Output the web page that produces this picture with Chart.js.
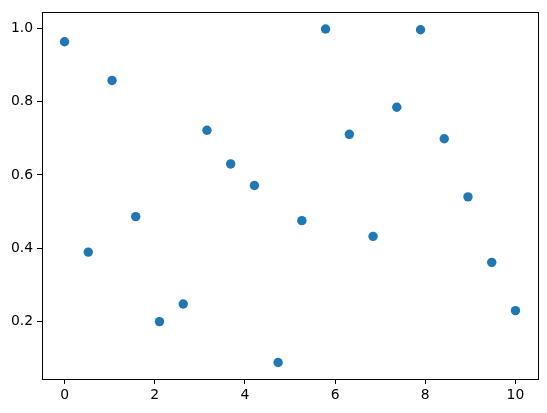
<!DOCTYPE html>
<html>
<head>
<meta charset="utf-8">
<script src="https://cdn.jsdelivr.net/npm/chart.js@4/dist/chart.umd.min.js"></script>
<style>
  body { margin: 0; background: #fff; }
  canvas { display: block; }
</style>
</head>
<body>
<canvas id="chart" width="547" height="413"></canvas>
<script>
//--- data
const xValues = [0, 0.526, 1.053, 1.579, 2.105, 2.632, 3.158, 3.684, 4.211, 4.737,
  5.263, 5.789, 6.316, 6.842, 7.368, 7.895, 8.421, 8.947, 9.474, 10];
const yValues = [0.964, 0.389, 0.858, 0.486, 0.199, 0.247, 0.722, 0.630, 0.571, 0.087,
  0.475, 0.999, 0.711, 0.432, 0.785, 0.997, 0.699, 0.540, 0.361, 0.229];
const xTicks = [0, 2, 4, 6, 8, 10];
const yTicks = [0.2, 0.4, 0.6, 0.8, 1.0];

const points = xValues.map((x, i) => ({ x: x, y: yValues[i] }));

//--- box around the plot area (top and right spines too)
const frame = {
  id: 'frame',
  afterDraw(chart) {
    const { ctx, chartArea: a } = chart;
    ctx.save();
    ctx.strokeStyle = '#000';
    ctx.lineWidth = 1;
    ctx.strokeRect(Math.round(a.left) + 0.5, Math.round(a.top) + 0.5,
      Math.round(a.right - a.left), Math.round(a.bottom - a.top));
    ctx.restore();
  }
};

const tickFont = { family: 'DejaVu Sans', size: 13.9 };

new Chart(document.getElementById('chart'), {
  type: 'scatter',
  data: {
    datasets: [{
      data: points,
      backgroundColor: '#1f77b4',
      borderColor: '#1f77b4',
      borderWidth: 0,
      pointRadius: 4.7,
      pointHoverRadius: 4.7
    }]
  },
  options: {
    responsive: false,
    animation: false,
    layout: { padding: { left: 0, right: 9, top: 10, bottom: 0 } },
    plugins: {
      legend: { display: false },
      tooltip: { enabled: false }
    },
    scales: {
      x: {
        type: 'linear',
        min: -0.5,
        max: 10.5,
        afterBuildTicks: (s) => { s.ticks = xTicks.map(v => ({ value: v })); },
        afterFit: (s) => { s.height = 34; },
        grid: { drawOnChartArea: false, color: '#000', tickLength: 5 },
        border: { display: false },
        ticks: { color: '#000', font: tickFont, padding: 3, maxRotation: 0,
          callback: (v) => String(v) }
      },
      y: {
        type: 'linear',
        min: 0.042,
        max: 1.0445,
        afterBuildTicks: (s) => { s.ticks = yTicks.map(v => ({ value: v })); },
        afterFit: (s) => { s.width = 42; },
        grid: { drawOnChartArea: false, color: '#000', tickLength: 5 },
        border: { display: false },
        ticks: { color: '#000', font: tickFont, padding: 4,
          callback: (v) => v.toFixed(1) }
      }
    }
  },
  plugins: [frame]
});
</script>
</body>
</html>
